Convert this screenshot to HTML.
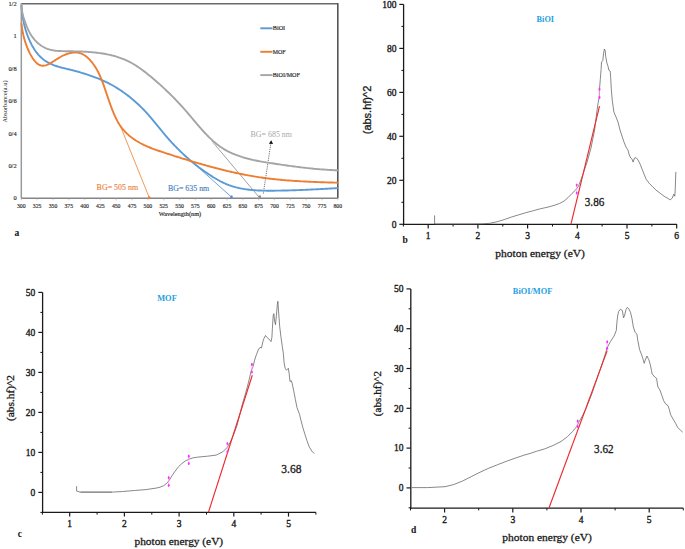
<!DOCTYPE html>
<html><head><meta charset="utf-8"><title>Figure</title>
<style>
html,body{margin:0;padding:0;background:#fff;width:685px;height:549px;overflow:hidden;}
svg{display:block;}
</style></head>
<body>
<svg width="685" height="549" viewBox="0 0 685 549">
<rect width="685" height="549" fill="#fff"/>
<line x1="21.3" y1="3.8" x2="337.8" y2="3.8" stroke="#6a6a6a" stroke-width="1.6"/>
<line x1="21.3" y1="3.0" x2="21.3" y2="198.3" stroke="#9a9a9a" stroke-width="1.5"/>
<line x1="337.8" y1="3.0" x2="337.8" y2="198.3" stroke="#555" stroke-width="1.6"/>
<line x1="21.3" y1="198.3" x2="337.8" y2="198.3" stroke="#858585" stroke-width="1.4"/>
<line x1="21.3" y1="198.3" x2="21.3" y2="200.3" stroke="#aaa" stroke-width="0.6"/>
<text x="21.3" y="207.8" font-family="'Liberation Serif', serif" font-size="6.8" text-anchor="middle" fill="#222" font-weight="normal" stroke="#333" stroke-width="0.18" textLength="8.6" lengthAdjust="spacingAndGlyphs">300</text>
<line x1="37.1" y1="198.3" x2="37.1" y2="200.3" stroke="#aaa" stroke-width="0.6"/>
<text x="37.1" y="207.8" font-family="'Liberation Serif', serif" font-size="6.8" text-anchor="middle" fill="#222" font-weight="normal" stroke="#333" stroke-width="0.18" textLength="8.6" lengthAdjust="spacingAndGlyphs">325</text>
<line x1="53.0" y1="198.3" x2="53.0" y2="200.3" stroke="#aaa" stroke-width="0.6"/>
<text x="53.0" y="207.8" font-family="'Liberation Serif', serif" font-size="6.8" text-anchor="middle" fill="#222" font-weight="normal" stroke="#333" stroke-width="0.18" textLength="8.6" lengthAdjust="spacingAndGlyphs">350</text>
<line x1="68.8" y1="198.3" x2="68.8" y2="200.3" stroke="#aaa" stroke-width="0.6"/>
<text x="68.8" y="207.8" font-family="'Liberation Serif', serif" font-size="6.8" text-anchor="middle" fill="#222" font-weight="normal" stroke="#333" stroke-width="0.18" textLength="8.6" lengthAdjust="spacingAndGlyphs">375</text>
<line x1="84.6" y1="198.3" x2="84.6" y2="200.3" stroke="#aaa" stroke-width="0.6"/>
<text x="84.6" y="207.8" font-family="'Liberation Serif', serif" font-size="6.8" text-anchor="middle" fill="#222" font-weight="normal" stroke="#333" stroke-width="0.18" textLength="8.6" lengthAdjust="spacingAndGlyphs">400</text>
<line x1="100.4" y1="198.3" x2="100.4" y2="200.3" stroke="#aaa" stroke-width="0.6"/>
<text x="100.4" y="207.8" font-family="'Liberation Serif', serif" font-size="6.8" text-anchor="middle" fill="#222" font-weight="normal" stroke="#333" stroke-width="0.18" textLength="8.6" lengthAdjust="spacingAndGlyphs">425</text>
<line x1="116.2" y1="198.3" x2="116.2" y2="200.3" stroke="#aaa" stroke-width="0.6"/>
<text x="116.2" y="207.8" font-family="'Liberation Serif', serif" font-size="6.8" text-anchor="middle" fill="#222" font-weight="normal" stroke="#333" stroke-width="0.18" textLength="8.6" lengthAdjust="spacingAndGlyphs">450</text>
<line x1="132.1" y1="198.3" x2="132.1" y2="200.3" stroke="#aaa" stroke-width="0.6"/>
<text x="132.1" y="207.8" font-family="'Liberation Serif', serif" font-size="6.8" text-anchor="middle" fill="#222" font-weight="normal" stroke="#333" stroke-width="0.18" textLength="8.6" lengthAdjust="spacingAndGlyphs">475</text>
<line x1="147.9" y1="198.3" x2="147.9" y2="200.3" stroke="#aaa" stroke-width="0.6"/>
<text x="147.9" y="207.8" font-family="'Liberation Serif', serif" font-size="6.8" text-anchor="middle" fill="#222" font-weight="normal" stroke="#333" stroke-width="0.18" textLength="8.6" lengthAdjust="spacingAndGlyphs">500</text>
<line x1="163.7" y1="198.3" x2="163.7" y2="200.3" stroke="#aaa" stroke-width="0.6"/>
<text x="163.7" y="207.8" font-family="'Liberation Serif', serif" font-size="6.8" text-anchor="middle" fill="#222" font-weight="normal" stroke="#333" stroke-width="0.18" textLength="8.6" lengthAdjust="spacingAndGlyphs">525</text>
<line x1="179.6" y1="198.3" x2="179.6" y2="200.3" stroke="#aaa" stroke-width="0.6"/>
<text x="179.6" y="207.8" font-family="'Liberation Serif', serif" font-size="6.8" text-anchor="middle" fill="#222" font-weight="normal" stroke="#333" stroke-width="0.18" textLength="8.6" lengthAdjust="spacingAndGlyphs">550</text>
<line x1="195.4" y1="198.3" x2="195.4" y2="200.3" stroke="#aaa" stroke-width="0.6"/>
<text x="195.4" y="207.8" font-family="'Liberation Serif', serif" font-size="6.8" text-anchor="middle" fill="#222" font-weight="normal" stroke="#333" stroke-width="0.18" textLength="8.6" lengthAdjust="spacingAndGlyphs">575</text>
<line x1="211.2" y1="198.3" x2="211.2" y2="200.3" stroke="#aaa" stroke-width="0.6"/>
<text x="211.2" y="207.8" font-family="'Liberation Serif', serif" font-size="6.8" text-anchor="middle" fill="#222" font-weight="normal" stroke="#333" stroke-width="0.18" textLength="8.6" lengthAdjust="spacingAndGlyphs">600</text>
<line x1="227.0" y1="198.3" x2="227.0" y2="200.3" stroke="#aaa" stroke-width="0.6"/>
<text x="227.0" y="207.8" font-family="'Liberation Serif', serif" font-size="6.8" text-anchor="middle" fill="#222" font-weight="normal" stroke="#333" stroke-width="0.18" textLength="8.6" lengthAdjust="spacingAndGlyphs">625</text>
<line x1="242.9" y1="198.3" x2="242.9" y2="200.3" stroke="#aaa" stroke-width="0.6"/>
<text x="242.9" y="207.8" font-family="'Liberation Serif', serif" font-size="6.8" text-anchor="middle" fill="#222" font-weight="normal" stroke="#333" stroke-width="0.18" textLength="8.6" lengthAdjust="spacingAndGlyphs">650</text>
<line x1="258.7" y1="198.3" x2="258.7" y2="200.3" stroke="#aaa" stroke-width="0.6"/>
<text x="258.7" y="207.8" font-family="'Liberation Serif', serif" font-size="6.8" text-anchor="middle" fill="#222" font-weight="normal" stroke="#333" stroke-width="0.18" textLength="8.6" lengthAdjust="spacingAndGlyphs">675</text>
<line x1="274.5" y1="198.3" x2="274.5" y2="200.3" stroke="#aaa" stroke-width="0.6"/>
<text x="274.5" y="207.8" font-family="'Liberation Serif', serif" font-size="6.8" text-anchor="middle" fill="#222" font-weight="normal" stroke="#333" stroke-width="0.18" textLength="8.6" lengthAdjust="spacingAndGlyphs">700</text>
<line x1="290.3" y1="198.3" x2="290.3" y2="200.3" stroke="#aaa" stroke-width="0.6"/>
<text x="290.3" y="207.8" font-family="'Liberation Serif', serif" font-size="6.8" text-anchor="middle" fill="#222" font-weight="normal" stroke="#333" stroke-width="0.18" textLength="8.6" lengthAdjust="spacingAndGlyphs">725</text>
<line x1="306.2" y1="198.3" x2="306.2" y2="200.3" stroke="#aaa" stroke-width="0.6"/>
<text x="306.2" y="207.8" font-family="'Liberation Serif', serif" font-size="6.8" text-anchor="middle" fill="#222" font-weight="normal" stroke="#333" stroke-width="0.18" textLength="8.6" lengthAdjust="spacingAndGlyphs">750</text>
<line x1="322.0" y1="198.3" x2="322.0" y2="200.3" stroke="#aaa" stroke-width="0.6"/>
<text x="322.0" y="207.8" font-family="'Liberation Serif', serif" font-size="6.8" text-anchor="middle" fill="#222" font-weight="normal" stroke="#333" stroke-width="0.18" textLength="8.6" lengthAdjust="spacingAndGlyphs">775</text>
<line x1="337.8" y1="198.3" x2="337.8" y2="200.3" stroke="#aaa" stroke-width="0.6"/>
<text x="337.8" y="207.8" font-family="'Liberation Serif', serif" font-size="6.8" text-anchor="middle" fill="#222" font-weight="normal" stroke="#333" stroke-width="0.18" textLength="8.6" lengthAdjust="spacingAndGlyphs">800</text>
<text x="16.6" y="200.3" font-family="'Liberation Serif', serif" font-size="6.4" text-anchor="end" fill="#222" font-weight="normal" stroke="#333" stroke-width="0.15">0</text>
<text x="16.6" y="167.9" font-family="'Liberation Serif', serif" font-size="6.4" text-anchor="end" fill="#222" font-weight="normal" stroke="#333" stroke-width="0.15">0/2</text>
<text x="16.6" y="135.5" font-family="'Liberation Serif', serif" font-size="6.4" text-anchor="end" fill="#222" font-weight="normal" stroke="#333" stroke-width="0.15">0/4</text>
<text x="16.6" y="103.1" font-family="'Liberation Serif', serif" font-size="6.4" text-anchor="end" fill="#222" font-weight="normal" stroke="#333" stroke-width="0.15">0/6</text>
<text x="16.6" y="70.6" font-family="'Liberation Serif', serif" font-size="6.4" text-anchor="end" fill="#222" font-weight="normal" stroke="#333" stroke-width="0.15">0/8</text>
<text x="16.6" y="38.2" font-family="'Liberation Serif', serif" font-size="6.4" text-anchor="end" fill="#222" font-weight="normal" stroke="#333" stroke-width="0.15">1</text>
<text x="16.6" y="5.8" font-family="'Liberation Serif', serif" font-size="6.4" text-anchor="end" fill="#222" font-weight="normal" stroke="#333" stroke-width="0.15">1/2</text>
<text x="6.7" y="101.5" font-family="'Liberation Serif', serif" font-size="7" text-anchor="middle" fill="#222" font-weight="normal" transform="rotate(-90 6.7 101.5)" textLength="42" lengthAdjust="spacingAndGlyphs">Absorbance(a.u)</text>
<text x="158.8" y="216.2" font-family="'Liberation Serif', serif" font-size="6.8" text-anchor="start" fill="#222" font-weight="normal" stroke="#333" stroke-width="0.18" textLength="42.4" lengthAdjust="spacingAndGlyphs">Wavelength(nm)</text>
<text x="14.6" y="235.7" font-family="'Liberation Serif', serif" font-size="9.5" text-anchor="start" fill="#111" font-weight="bold" >a</text>
<line x1="120.9" y1="127.3" x2="149.2" y2="197.4" stroke="#ED7D31" stroke-width="0.8"/>
<circle cx="149.2" cy="197.6" r="1.3" fill="#ED7D31"/>
<line x1="193.6" y1="163.2" x2="232" y2="197.5" stroke="#4a8ad0" stroke-width="0.8"/>
<circle cx="231.5" cy="196.8" r="1.3" fill="#4a8ad0"/>
<line x1="211.7" y1="140.8" x2="258.9" y2="197" stroke="#7a7a7a" stroke-width="0.7"/>
<rect x="258.7" y="195.5" width="2.2" height="2.2" fill="#808080"/>
<line x1="263.3" y1="193.6" x2="270.7" y2="144.3" stroke="#333" stroke-width="0.7" stroke-dasharray="1.2,1"/>
<path d="M271.2,140.3 L273.1,144.1 L268.9,143.8 Z" fill="#111"/>
<path d="M21.50,5.50 L21.61,7.02 L21.73,8.53 L21.87,10.03 L22.03,11.53 L22.20,13.01 L22.39,14.49 L22.60,15.97 L22.82,17.43 L23.07,18.89 L23.33,20.35 L23.62,21.79 L23.92,23.24 L24.25,24.67 L24.59,26.10 L24.97,27.53 L25.36,28.95 L25.78,30.37 L26.22,31.78 L26.69,33.19 L27.19,34.60 L27.71,36.00 L28.26,37.40 L28.84,38.80 L29.45,40.19 L30.09,41.58 L30.76,42.96 L31.46,44.34 L32.19,45.70 L32.95,47.04 L33.74,48.37 L34.57,49.67 L35.44,50.94 L36.34,52.18 L37.27,53.38 L38.24,54.55 L39.25,55.68 L40.30,56.76 L41.38,57.79 L42.51,58.77 L43.67,59.69 L44.87,60.55 L46.11,61.37 L47.38,62.13 L48.67,62.84 L50.00,63.51 L51.34,64.13 L52.70,64.72 L54.08,65.26 L55.47,65.77 L56.87,66.24 L58.28,66.68 L59.69,67.09 L61.10,67.48 L62.52,67.85 L63.93,68.20 L65.35,68.54 L66.77,68.87 L68.19,69.20 L69.62,69.54 L71.04,69.87 L72.46,70.22 L73.89,70.59 L75.31,70.97 L76.73,71.36 L78.16,71.76 L79.58,72.18 L81.00,72.61 L82.42,73.04 L83.84,73.48 L85.26,73.93 L86.67,74.38 L88.08,74.85 L89.49,75.32 L90.90,75.81 L92.30,76.31 L93.70,76.82 L95.09,77.34 L96.49,77.87 L97.87,78.42 L99.25,78.98 L100.63,79.56 L102.00,80.15 L103.37,80.76 L104.73,81.38 L106.09,82.03 L107.44,82.69 L108.78,83.37 L110.12,84.07 L111.45,84.78 L112.77,85.52 L114.08,86.27 L115.39,87.05 L116.69,87.83 L117.98,88.64 L119.26,89.46 L120.53,90.30 L121.80,91.15 L123.05,92.02 L124.29,92.90 L125.53,93.80 L126.75,94.71 L127.97,95.63 L129.17,96.57 L130.36,97.52 L131.54,98.48 L132.71,99.45 L133.87,100.44 L135.01,101.43 L136.15,102.44 L137.27,103.46 L138.37,104.48 L139.47,105.52 L140.55,106.56 L141.62,107.62 L142.67,108.68 L143.71,109.75 L144.73,110.82 L145.74,111.91 L146.74,113.00 L147.73,114.09 L148.70,115.19 L149.67,116.30 L150.62,117.41 L151.57,118.53 L152.51,119.65 L153.45,120.77 L154.38,121.90 L155.31,123.03 L156.24,124.16 L157.16,125.30 L158.09,126.43 L159.01,127.57 L159.94,128.71 L160.87,129.85 L161.80,130.99 L162.74,132.13 L163.68,133.26 L164.63,134.40 L165.59,135.53 L166.56,136.67 L167.53,137.80 L168.52,138.92 L169.52,140.05 L170.53,141.17 L171.55,142.28 L172.57,143.39 L173.61,144.50 L174.66,145.60 L175.72,146.70 L176.78,147.78 L177.85,148.87 L178.93,149.94 L180.02,151.01 L181.12,152.07 L182.22,153.12 L183.32,154.17 L184.44,155.20 L185.56,156.22 L186.68,157.24 L187.81,158.24 L188.95,159.24 L190.09,160.22 L191.23,161.19 L192.38,162.15 L193.53,163.10 L194.68,164.03 L195.84,164.96 L197.00,165.87 L198.17,166.77 L199.35,167.66 L200.53,168.55 L201.72,169.42 L202.92,170.28 L204.13,171.14 L205.35,171.99 L206.57,172.82 L207.81,173.66 L209.06,174.48 L210.32,175.30 L211.59,176.12 L212.87,176.93 L214.17,177.73 L215.47,178.52 L216.79,179.29 L218.12,180.05 L219.45,180.79 L220.80,181.50 L222.15,182.18 L223.51,182.84 L224.87,183.46 L226.25,184.05 L227.63,184.61 L229.02,185.14 L230.41,185.63 L231.81,186.10 L233.22,186.54 L234.63,186.95 L236.04,187.33 L237.47,187.68 L238.90,188.02 L240.33,188.32 L241.77,188.61 L243.21,188.87 L244.66,189.11 L246.12,189.33 L247.57,189.52 L249.04,189.70 L250.50,189.86 L251.97,190.01 L253.45,190.14 L254.93,190.25 L256.41,190.34 L257.89,190.43 L259.38,190.50 L260.88,190.56 L262.37,190.60 L263.87,190.64 L265.37,190.67 L266.87,190.68 L268.37,190.69 L269.88,190.70 L271.39,190.70 L272.90,190.69 L274.41,190.68 L275.93,190.66 L277.44,190.64 L278.96,190.62 L280.48,190.60 L282.00,190.57 L283.52,190.54 L285.04,190.50 L286.56,190.47 L288.08,190.43 L289.60,190.38 L291.12,190.34 L292.64,190.29 L294.16,190.24 L295.68,190.19 L297.20,190.14 L298.72,190.08 L300.24,190.02 L301.75,189.96 L303.27,189.90 L304.78,189.84 L306.29,189.77 L307.80,189.70 L309.31,189.63 L310.82,189.56 L312.32,189.49 L313.82,189.41 L315.32,189.34 L316.82,189.26 L318.31,189.18 L319.80,189.11 L321.29,189.03 L322.77,188.94 L324.25,188.86 L325.73,188.78 L327.20,188.70 L328.67,188.61 L330.13,188.53 L331.59,188.44 L333.05,188.36 L334.50,188.27 L335.95,188.18 L337.39,188.10" fill="none" stroke="#5B9BD5" stroke-width="1.9" stroke-linejoin="round" stroke-linecap="round"/>
<path d="M21.50,23.60 L21.67,25.16 L21.86,26.68 L22.07,28.17 L22.29,29.64 L22.54,31.09 L22.81,32.52 L23.10,33.94 L23.41,35.35 L23.75,36.75 L24.12,38.15 L24.51,39.55 L24.93,40.95 L25.38,42.37 L25.86,43.80 L26.37,45.23 L26.91,46.68 L27.48,48.12 L28.09,49.56 L28.73,51.00 L29.41,52.42 L30.13,53.83 L30.88,55.22 L31.68,56.58 L32.51,57.92 L33.39,59.23 L34.31,60.48 L35.27,61.66 L36.27,62.72 L37.32,63.64 L38.42,64.41 L39.55,65.01 L40.72,65.44 L41.92,65.70 L43.15,65.77 L44.41,65.67 L45.68,65.37 L46.97,64.91 L48.27,64.33 L49.58,63.66 L50.90,62.92 L52.23,62.12 L53.57,61.28 L54.91,60.42 L56.27,59.54 L57.64,58.67 L59.02,57.82 L60.41,56.99 L61.82,56.22 L63.24,55.50 L64.67,54.84 L66.11,54.26 L67.55,53.74 L68.99,53.31 L70.44,52.96 L71.87,52.70 L73.30,52.53 L74.72,52.46 L76.13,52.49 L77.52,52.62 L78.88,52.86 L80.22,53.22 L81.52,53.69 L82.79,54.28 L84.03,54.96 L85.23,55.75 L86.40,56.61 L87.53,57.56 L88.63,58.58 L89.69,59.66 L90.72,60.80 L91.70,61.98 L92.65,63.20 L93.56,64.45 L94.44,65.72 L95.27,67.00 L96.07,68.30 L96.83,69.62 L97.56,70.94 L98.26,72.27 L98.93,73.62 L99.57,74.98 L100.19,76.34 L100.78,77.72 L101.36,79.10 L101.91,80.49 L102.45,81.88 L102.98,83.29 L103.49,84.69 L103.99,86.10 L104.48,87.52 L104.97,88.94 L105.45,90.36 L105.93,91.78 L106.41,93.21 L106.89,94.63 L107.36,96.06 L107.85,97.48 L108.33,98.90 L108.82,100.32 L109.31,101.74 L109.81,103.16 L110.32,104.56 L110.83,105.97 L111.35,107.37 L111.88,108.76 L112.42,110.15 L112.97,111.52 L113.54,112.89 L114.11,114.26 L114.71,115.61 L115.32,116.94 L115.95,118.27 L116.61,119.58 L117.29,120.88 L118.00,122.17 L118.75,123.43 L119.53,124.68 L120.34,125.91 L121.20,127.11 L122.10,128.30 L123.04,129.46 L124.03,130.60 L125.07,131.72 L126.15,132.81 L127.27,133.87 L128.42,134.90 L129.60,135.91 L130.81,136.88 L132.04,137.82 L133.29,138.73 L134.56,139.60 L135.83,140.44 L137.11,141.25 L138.40,142.02 L139.70,142.76 L141.00,143.47 L142.32,144.15 L143.63,144.81 L144.96,145.44 L146.29,146.05 L147.63,146.63 L148.98,147.20 L150.33,147.75 L151.69,148.28 L153.05,148.80 L154.42,149.30 L155.80,149.79 L157.18,150.28 L158.56,150.76 L159.95,151.23 L161.34,151.69 L162.74,152.15 L164.15,152.62 L165.55,153.08 L166.97,153.54 L168.38,154.00 L169.80,154.46 L171.22,154.92 L172.65,155.38 L174.07,155.84 L175.50,156.29 L176.94,156.75 L178.37,157.20 L179.81,157.65 L181.25,158.10 L182.69,158.55 L184.14,159.00 L185.58,159.44 L187.03,159.88 L188.48,160.32 L189.93,160.76 L191.37,161.20 L192.82,161.63 L194.27,162.06 L195.72,162.49 L197.18,162.92 L198.63,163.34 L200.08,163.76 L201.53,164.18 L202.98,164.59 L204.43,165.00 L205.89,165.41 L207.34,165.81 L208.79,166.21 L210.25,166.61 L211.70,167.00 L213.15,167.39 L214.61,167.78 L216.06,168.16 L217.52,168.54 L218.98,168.91 L220.43,169.28 L221.89,169.65 L223.35,170.01 L224.80,170.37 L226.26,170.72 L227.72,171.06 L229.18,171.41 L230.64,171.74 L232.10,172.08 L233.56,172.40 L235.02,172.73 L236.48,173.04 L237.94,173.36 L239.40,173.66 L240.87,173.96 L242.33,174.26 L243.79,174.55 L245.26,174.83 L246.72,175.11 L248.19,175.38 L249.65,175.65 L251.12,175.91 L252.59,176.17 L254.05,176.41 L255.52,176.65 L256.99,176.89 L258.46,177.12 L259.93,177.34 L261.40,177.56 L262.87,177.76 L264.34,177.97 L265.82,178.16 L267.29,178.35 L268.76,178.54 L270.24,178.72 L271.71,178.89 L273.19,179.06 L274.67,179.22 L276.14,179.37 L277.62,179.53 L279.10,179.67 L280.58,179.81 L282.06,179.95 L283.54,180.08 L285.02,180.21 L286.51,180.33 L287.99,180.45 L289.47,180.56 L290.96,180.67 L292.44,180.78 L293.93,180.88 L295.42,180.98 L296.90,181.07 L298.39,181.16 L299.88,181.25 L301.37,181.34 L302.86,181.42 L304.36,181.50 L305.85,181.57 L307.34,181.64 L308.84,181.71 L310.33,181.78 L311.83,181.85 L313.33,181.91 L314.82,181.97 L316.32,182.03 L317.82,182.09 L319.32,182.14 L320.82,182.19 L322.33,182.24 L323.83,182.29 L325.34,182.34 L326.84,182.39 L328.35,182.44 L329.86,182.48 L331.36,182.53 L332.87,182.57 L334.38,182.61 L335.90,182.66 L337.41,182.70" fill="none" stroke="#ED7D31" stroke-width="1.9" stroke-linejoin="round" stroke-linecap="round"/>
<path d="M21.49,5.01 L21.48,6.46 L21.55,7.92 L21.69,9.36 L21.91,10.81 L22.18,12.25 L22.51,13.70 L22.89,15.14 L23.30,16.58 L23.75,18.01 L24.22,19.45 L24.70,20.89 L25.21,22.33 L25.73,23.76 L26.27,25.19 L26.83,26.60 L27.43,28.00 L28.05,29.39 L28.70,30.75 L29.39,32.09 L30.12,33.41 L30.89,34.70 L31.70,35.96 L32.56,37.19 L33.47,38.38 L34.42,39.53 L35.41,40.63 L36.44,41.70 L37.52,42.71 L38.63,43.68 L39.77,44.59 L40.96,45.44 L42.17,46.24 L43.42,46.98 L44.69,47.65 L46.00,48.26 L47.33,48.79 L48.68,49.26 L50.06,49.66 L51.46,50.00 L52.88,50.28 L54.32,50.51 L55.77,50.70 L57.24,50.85 L58.72,50.96 L60.21,51.05 L61.71,51.11 L63.22,51.15 L64.74,51.18 L66.26,51.21 L67.78,51.23 L69.30,51.25 L70.83,51.28 L72.36,51.30 L73.89,51.34 L75.42,51.37 L76.94,51.41 L78.47,51.46 L80.00,51.51 L81.53,51.57 L83.06,51.64 L84.58,51.72 L86.10,51.80 L87.62,51.90 L89.14,52.00 L90.66,52.12 L92.17,52.25 L93.68,52.39 L95.19,52.54 L96.69,52.71 L98.19,52.89 L99.68,53.09 L101.17,53.30 L102.65,53.52 L104.13,53.77 L105.60,54.03 L107.07,54.31 L108.53,54.61 L109.98,54.93 L111.43,55.27 L112.86,55.63 L114.29,56.02 L115.72,56.42 L117.13,56.85 L118.53,57.30 L119.93,57.78 L121.32,58.28 L122.69,58.80 L124.06,59.35 L125.42,59.93 L126.76,60.54 L128.10,61.18 L129.42,61.84 L130.74,62.53 L132.04,63.25 L133.33,64.00 L134.61,64.77 L135.88,65.56 L137.14,66.37 L138.39,67.21 L139.63,68.06 L140.86,68.93 L142.09,69.82 L143.30,70.72 L144.51,71.63 L145.70,72.56 L146.89,73.50 L148.07,74.44 L149.24,75.40 L150.41,76.35 L151.57,77.32 L152.72,78.29 L153.87,79.26 L155.00,80.23 L156.13,81.21 L157.26,82.19 L158.38,83.17 L159.49,84.16 L160.60,85.16 L161.70,86.15 L162.79,87.16 L163.88,88.16 L164.96,89.17 L166.04,90.19 L167.11,91.21 L168.18,92.23 L169.24,93.27 L170.30,94.30 L171.35,95.34 L172.39,96.39 L173.44,97.44 L174.47,98.50 L175.51,99.57 L176.53,100.64 L177.56,101.72 L178.58,102.80 L179.59,103.89 L180.61,104.99 L181.61,106.09 L182.62,107.20 L183.62,108.32 L184.62,109.45 L185.61,110.58 L186.60,111.72 L187.59,112.87 L188.57,114.02 L189.56,115.18 L190.54,116.34 L191.52,117.51 L192.50,118.68 L193.48,119.85 L194.47,121.02 L195.45,122.19 L196.44,123.35 L197.43,124.52 L198.42,125.68 L199.42,126.83 L200.42,127.98 L201.43,129.12 L202.44,130.25 L203.46,131.38 L204.49,132.49 L205.52,133.59 L206.56,134.68 L207.61,135.76 L208.67,136.82 L209.74,137.87 L210.82,138.90 L211.91,139.91 L213.02,140.91 L214.13,141.88 L215.26,142.84 L216.40,143.77 L217.55,144.68 L218.72,145.57 L219.91,146.43 L221.10,147.27 L222.32,148.08 L223.55,148.86 L224.80,149.61 L226.07,150.34 L227.35,151.04 L228.65,151.71 L229.96,152.36 L231.29,152.98 L232.63,153.57 L233.99,154.15 L235.36,154.70 L236.74,155.23 L238.13,155.73 L239.53,156.22 L240.94,156.69 L242.37,157.14 L243.80,157.57 L245.24,157.98 L246.69,158.38 L248.15,158.76 L249.61,159.13 L251.08,159.48 L252.56,159.81 L254.04,160.14 L255.52,160.45 L257.01,160.75 L258.51,161.04 L260.01,161.32 L261.51,161.60 L263.01,161.86 L264.51,162.12 L266.01,162.37 L267.52,162.61 L269.02,162.85 L270.52,163.08 L272.02,163.31 L273.52,163.54 L275.02,163.76 L276.51,163.98 L278.00,164.21 L279.49,164.42 L280.97,164.64 L282.45,164.86 L283.93,165.07 L285.41,165.28 L286.89,165.49 L288.36,165.69 L289.83,165.90 L291.31,166.10 L292.78,166.30 L294.25,166.49 L295.72,166.68 L297.18,166.87 L298.65,167.05 L300.12,167.24 L301.59,167.41 L303.06,167.59 L304.53,167.76 L306.00,167.92 L307.47,168.09 L308.94,168.24 L310.42,168.40 L311.89,168.55 L313.37,168.69 L314.85,168.83 L316.33,168.97 L317.82,169.10 L319.30,169.22 L320.79,169.34 L322.28,169.46 L323.78,169.57 L325.27,169.67 L326.78,169.77 L328.28,169.87 L329.79,169.95 L331.30,170.04 L332.82,170.11 L334.34,170.18 L335.87,170.24 L337.40,170.30" fill="none" stroke="#A5A5A5" stroke-width="1.9" stroke-linejoin="round" stroke-linecap="round"/>
<text x="96.6" y="189.9" font-family="'Liberation Serif', serif" font-size="8.8" text-anchor="start" fill="#EB8240" font-weight="normal" stroke="#EB8240" stroke-width="0.15" textLength="41.6" lengthAdjust="spacingAndGlyphs">BG= 505 nm</text>
<text x="168.0" y="190.9" font-family="'Liberation Serif', serif" font-size="8.8" text-anchor="start" fill="#4A80C4" font-weight="normal" stroke="#4A80C4" stroke-width="0.15" textLength="41.2" lengthAdjust="spacingAndGlyphs">BG= 635 nm</text>
<text x="250.6" y="137.0" font-family="'Liberation Serif', serif" font-size="8.8" text-anchor="start" fill="#A8A8A8" font-weight="normal" textLength="41.4" lengthAdjust="spacingAndGlyphs">BG= 685 nm</text>
<line x1="260.3" y1="28.3" x2="272.5" y2="28.3" stroke="#5B9BD5" stroke-width="1.9"/>
<text x="272.8" y="30.4" font-family="'Liberation Serif', serif" font-size="6.4" text-anchor="start" fill="#222" font-weight="normal" stroke="#333" stroke-width="0.18" textLength="12.4" lengthAdjust="spacingAndGlyphs">BiOI</text>
<line x1="260.3" y1="51.8" x2="272.5" y2="51.8" stroke="#ED7D31" stroke-width="1.9"/>
<text x="272.8" y="53.9" font-family="'Liberation Serif', serif" font-size="6.4" text-anchor="start" fill="#222" font-weight="normal" stroke="#333" stroke-width="0.18" textLength="12.8" lengthAdjust="spacingAndGlyphs">MOF</text>
<line x1="260.3" y1="75.1" x2="272.5" y2="75.1" stroke="#A5A5A5" stroke-width="1.9"/>
<text x="272.8" y="77.2" font-family="'Liberation Serif', serif" font-size="6.4" text-anchor="start" fill="#222" font-weight="normal" stroke="#333" stroke-width="0.18" textLength="27" lengthAdjust="spacingAndGlyphs">BiOI/MOF</text>
<line x1="403.6" y1="4.4" x2="403.6" y2="224.9" stroke="#1a1a1a" stroke-width="1.3"/>
<line x1="403.0" y1="224.3" x2="676.9" y2="224.3" stroke="#1a1a1a" stroke-width="1.3"/>
<line x1="428.2" y1="224.3" x2="428.2" y2="228.5" stroke="#1a1a1a" stroke-width="1.2"/>
<text x="428.2" y="238.6" font-family="'Liberation Serif', serif" font-size="9.5" text-anchor="middle" fill="#1a1a1a" font-weight="normal" stroke="#1a1a1a" stroke-width="0.35">1</text>
<line x1="477.9" y1="224.3" x2="477.9" y2="228.5" stroke="#1a1a1a" stroke-width="1.2"/>
<text x="477.9" y="238.6" font-family="'Liberation Serif', serif" font-size="9.5" text-anchor="middle" fill="#1a1a1a" font-weight="normal" stroke="#1a1a1a" stroke-width="0.35">2</text>
<line x1="527.6" y1="224.3" x2="527.6" y2="228.5" stroke="#1a1a1a" stroke-width="1.2"/>
<text x="527.6" y="238.6" font-family="'Liberation Serif', serif" font-size="9.5" text-anchor="middle" fill="#1a1a1a" font-weight="normal" stroke="#1a1a1a" stroke-width="0.35">3</text>
<line x1="577.3" y1="224.3" x2="577.3" y2="228.5" stroke="#1a1a1a" stroke-width="1.2"/>
<text x="577.3" y="238.6" font-family="'Liberation Serif', serif" font-size="9.5" text-anchor="middle" fill="#1a1a1a" font-weight="normal" stroke="#1a1a1a" stroke-width="0.35">4</text>
<line x1="627.0" y1="224.3" x2="627.0" y2="228.5" stroke="#1a1a1a" stroke-width="1.2"/>
<text x="627.0" y="238.6" font-family="'Liberation Serif', serif" font-size="9.5" text-anchor="middle" fill="#1a1a1a" font-weight="normal" stroke="#1a1a1a" stroke-width="0.35">5</text>
<line x1="676.7" y1="224.3" x2="676.7" y2="228.5" stroke="#1a1a1a" stroke-width="1.2"/>
<text x="676.7" y="238.6" font-family="'Liberation Serif', serif" font-size="9.5" text-anchor="middle" fill="#1a1a1a" font-weight="normal" stroke="#1a1a1a" stroke-width="0.35">6</text>
<line x1="403.4" y1="224.3" x2="403.4" y2="226.5" stroke="#111" stroke-width="1"/>
<line x1="453.1" y1="224.3" x2="453.1" y2="226.5" stroke="#111" stroke-width="1"/>
<line x1="502.8" y1="224.3" x2="502.8" y2="226.5" stroke="#111" stroke-width="1"/>
<line x1="552.5" y1="224.3" x2="552.5" y2="226.5" stroke="#111" stroke-width="1"/>
<line x1="602.1" y1="224.3" x2="602.1" y2="226.5" stroke="#111" stroke-width="1"/>
<line x1="651.9" y1="224.3" x2="651.9" y2="226.5" stroke="#111" stroke-width="1"/>
<line x1="399.3" y1="224.3" x2="403.6" y2="224.3" stroke="#1a1a1a" stroke-width="1.2"/>
<text x="396.5" y="227.6" font-family="'Liberation Serif', serif" font-size="9.5" text-anchor="end" fill="#1a1a1a" font-weight="normal" stroke="#1a1a1a" stroke-width="0.35">0</text>
<line x1="399.3" y1="180.3" x2="403.6" y2="180.3" stroke="#1a1a1a" stroke-width="1.2"/>
<text x="396.5" y="183.6" font-family="'Liberation Serif', serif" font-size="9.5" text-anchor="end" fill="#1a1a1a" font-weight="normal" stroke="#1a1a1a" stroke-width="0.35">20</text>
<line x1="399.3" y1="136.3" x2="403.6" y2="136.3" stroke="#1a1a1a" stroke-width="1.2"/>
<text x="396.5" y="139.6" font-family="'Liberation Serif', serif" font-size="9.5" text-anchor="end" fill="#1a1a1a" font-weight="normal" stroke="#1a1a1a" stroke-width="0.35">40</text>
<line x1="399.3" y1="92.4" x2="403.6" y2="92.4" stroke="#1a1a1a" stroke-width="1.2"/>
<text x="396.5" y="95.7" font-family="'Liberation Serif', serif" font-size="9.5" text-anchor="end" fill="#1a1a1a" font-weight="normal" stroke="#1a1a1a" stroke-width="0.35">60</text>
<line x1="399.3" y1="48.4" x2="403.6" y2="48.4" stroke="#1a1a1a" stroke-width="1.2"/>
<text x="396.5" y="51.7" font-family="'Liberation Serif', serif" font-size="9.5" text-anchor="end" fill="#1a1a1a" font-weight="normal" stroke="#1a1a1a" stroke-width="0.35">80</text>
<line x1="399.3" y1="4.4" x2="403.6" y2="4.4" stroke="#1a1a1a" stroke-width="1.2"/>
<text x="396.5" y="7.7" font-family="'Liberation Serif', serif" font-size="9.5" text-anchor="end" fill="#1a1a1a" font-weight="normal" stroke="#1a1a1a" stroke-width="0.35">100</text>
<line x1="401.40000000000003" y1="202.3" x2="403.6" y2="202.3" stroke="#111" stroke-width="1"/>
<line x1="401.40000000000003" y1="158.3" x2="403.6" y2="158.3" stroke="#111" stroke-width="1"/>
<line x1="401.40000000000003" y1="114.4" x2="403.6" y2="114.4" stroke="#111" stroke-width="1"/>
<line x1="401.40000000000003" y1="70.4" x2="403.6" y2="70.4" stroke="#111" stroke-width="1"/>
<line x1="401.40000000000003" y1="26.4" x2="403.6" y2="26.4" stroke="#111" stroke-width="1"/>
<text x="370.6" y="110" font-family="'Liberation Sans', sans-serif" font-size="11" text-anchor="middle" fill="#1a1a1a" font-weight="normal" stroke="#1a1a1a" stroke-width="0.3" transform="rotate(-90 370.6 110)" textLength="48.5" lengthAdjust="spacingAndGlyphs">(abs.hf)^2</text>
<text x="540.1" y="257.3" font-family="'Liberation Serif', serif" font-size="11.3" text-anchor="middle" fill="#1a1a1a" font-weight="normal" stroke="#1a1a1a" stroke-width="0.3" textLength="89.5" lengthAdjust="spacingAndGlyphs">photon energy (eV)</text>
<text x="402.6" y="242.8" font-family="'Liberation Serif', serif" font-size="9.5" text-anchor="start" fill="#111" font-weight="bold" >b</text>
<text x="545.3" y="22.1" font-family="'Liberation Serif', serif" font-size="8.5" text-anchor="middle" fill="#1E9EE0" font-weight="bold" textLength="17.4" lengthAdjust="spacingAndGlyphs">BiOI</text>
<text x="584.8" y="205.5" font-family="'Liberation Serif', serif" font-size="11.5" text-anchor="start" fill="#1a1a1a" font-weight="normal" stroke="#1a1a1a" stroke-width="0.3" textLength="19.5" lengthAdjust="spacingAndGlyphs">3.86</text>
<polyline points="434.6,215.4 434.6,224.0 436.0,224.1 470.0,224.1 482.3,223.9 489.6,223.3 496.9,221.8 504.2,219.6 511.5,217.0 518.8,214.8 526.1,212.6 533.4,210.7 540.7,208.7 548.0,207.1 555.3,205.0 559.7,203.4 564.1,201.0 568.4,197.3 572.0,193.5 575.3,190.3 578.4,186.4 582.8,174.8 587.2,161.7 591.0,148.0 594.6,130.0 597.0,110.5 598.2,102.3 599.2,97.4 599.5,89.2 600.3,79.3 601.1,69.5 601.5,62.1 602.8,60.5 603.6,53.1 604.4,49.0 605.2,50.7 605.7,56.4 606.9,63.0 608.0,66.2 608.9,70.3 610.2,71.1 610.7,77.7 611.3,89.2 612.3,100.7 613.9,112.1 616.0,117.0 618.0,122.0 620.0,130.0 622.0,136.1 624.0,142.1 626.0,147.1 628.0,150.1 629.0,154.1 630.7,158.1 632.1,159.1 633.1,162.1 634.5,158.1 636.1,157.7 638.1,160.1 640.1,164.1 642.1,169.2 644.1,174.2 646.1,179.2 649.1,183.2 652.1,186.2 656.1,190.2 660.1,193.2 664.1,196.2 668.2,198.6 670.2,199.8 672.2,198.2 673.8,194.2 674.8,196.2 675.2,190.2 675.8,172.2 676.2,172.2" fill="none" stroke="#555" stroke-width="0.7" stroke-linejoin="round"/>
<line x1="570.9" y1="224.3" x2="599.5" y2="106.1" stroke="#ec2a2e" stroke-width="1.15"/>
<line x1="576.7" y1="185.0" x2="576.7" y2="193.0" stroke="#ff99ff" stroke-width="0.6"/>
<ellipse cx="576.7" cy="185.0" rx="0.95" ry="1.6" fill="#ff2dff"/>
<ellipse cx="576.7" cy="193.0" rx="0.95" ry="1.6" fill="#ff2dff"/>
<line x1="599.5" y1="89.2" x2="599.5" y2="97.4" stroke="#ff99ff" stroke-width="0.6"/>
<ellipse cx="599.5" cy="89.2" rx="0.95" ry="1.6" fill="#ff2dff"/>
<ellipse cx="599.5" cy="97.4" rx="0.95" ry="1.6" fill="#ff2dff"/>
<line x1="42.6" y1="292.4" x2="42.6" y2="513.0" stroke="#1a1a1a" stroke-width="1.3"/>
<line x1="42.0" y1="512.4" x2="315.9" y2="512.4" stroke="#1a1a1a" stroke-width="1.3"/>
<line x1="69.7" y1="512.4" x2="69.7" y2="516.6" stroke="#1a1a1a" stroke-width="1.2"/>
<text x="69.7" y="526.6" font-family="'Liberation Serif', serif" font-size="9.5" text-anchor="middle" fill="#1a1a1a" font-weight="normal" stroke="#1a1a1a" stroke-width="0.35">1</text>
<line x1="124.4" y1="512.4" x2="124.4" y2="516.6" stroke="#1a1a1a" stroke-width="1.2"/>
<text x="124.4" y="526.6" font-family="'Liberation Serif', serif" font-size="9.5" text-anchor="middle" fill="#1a1a1a" font-weight="normal" stroke="#1a1a1a" stroke-width="0.35">2</text>
<line x1="179.1" y1="512.4" x2="179.1" y2="516.6" stroke="#1a1a1a" stroke-width="1.2"/>
<text x="179.1" y="526.6" font-family="'Liberation Serif', serif" font-size="9.5" text-anchor="middle" fill="#1a1a1a" font-weight="normal" stroke="#1a1a1a" stroke-width="0.35">3</text>
<line x1="233.8" y1="512.4" x2="233.8" y2="516.6" stroke="#1a1a1a" stroke-width="1.2"/>
<text x="233.8" y="526.6" font-family="'Liberation Serif', serif" font-size="9.5" text-anchor="middle" fill="#1a1a1a" font-weight="normal" stroke="#1a1a1a" stroke-width="0.35">4</text>
<line x1="288.5" y1="512.4" x2="288.5" y2="516.6" stroke="#1a1a1a" stroke-width="1.2"/>
<text x="288.5" y="526.6" font-family="'Liberation Serif', serif" font-size="9.5" text-anchor="middle" fill="#1a1a1a" font-weight="normal" stroke="#1a1a1a" stroke-width="0.35">5</text>
<line x1="42.4" y1="512.4" x2="42.4" y2="514.6" stroke="#111" stroke-width="1"/>
<line x1="97.1" y1="512.4" x2="97.1" y2="514.6" stroke="#111" stroke-width="1"/>
<line x1="151.8" y1="512.4" x2="151.8" y2="514.6" stroke="#111" stroke-width="1"/>
<line x1="206.5" y1="512.4" x2="206.5" y2="514.6" stroke="#111" stroke-width="1"/>
<line x1="261.1" y1="512.4" x2="261.1" y2="514.6" stroke="#111" stroke-width="1"/>
<line x1="315.9" y1="512.4" x2="315.9" y2="514.6" stroke="#111" stroke-width="1"/>
<line x1="38.300000000000004" y1="492.4" x2="42.6" y2="492.4" stroke="#1a1a1a" stroke-width="1.2"/>
<text x="35.2" y="495.7" font-family="'Liberation Serif', serif" font-size="9.5" text-anchor="end" fill="#1a1a1a" font-weight="normal" stroke="#1a1a1a" stroke-width="0.35">0</text>
<line x1="38.300000000000004" y1="452.4" x2="42.6" y2="452.4" stroke="#1a1a1a" stroke-width="1.2"/>
<text x="35.2" y="455.7" font-family="'Liberation Serif', serif" font-size="9.5" text-anchor="end" fill="#1a1a1a" font-weight="normal" stroke="#1a1a1a" stroke-width="0.35">10</text>
<line x1="38.300000000000004" y1="412.4" x2="42.6" y2="412.4" stroke="#1a1a1a" stroke-width="1.2"/>
<text x="35.2" y="415.7" font-family="'Liberation Serif', serif" font-size="9.5" text-anchor="end" fill="#1a1a1a" font-weight="normal" stroke="#1a1a1a" stroke-width="0.35">20</text>
<line x1="38.300000000000004" y1="372.4" x2="42.6" y2="372.4" stroke="#1a1a1a" stroke-width="1.2"/>
<text x="35.2" y="375.7" font-family="'Liberation Serif', serif" font-size="9.5" text-anchor="end" fill="#1a1a1a" font-weight="normal" stroke="#1a1a1a" stroke-width="0.35">30</text>
<line x1="38.300000000000004" y1="332.4" x2="42.6" y2="332.4" stroke="#1a1a1a" stroke-width="1.2"/>
<text x="35.2" y="335.7" font-family="'Liberation Serif', serif" font-size="9.5" text-anchor="end" fill="#1a1a1a" font-weight="normal" stroke="#1a1a1a" stroke-width="0.35">40</text>
<line x1="38.300000000000004" y1="292.4" x2="42.6" y2="292.4" stroke="#1a1a1a" stroke-width="1.2"/>
<text x="35.2" y="295.7" font-family="'Liberation Serif', serif" font-size="9.5" text-anchor="end" fill="#1a1a1a" font-weight="normal" stroke="#1a1a1a" stroke-width="0.35">50</text>
<line x1="40.4" y1="512.4" x2="42.6" y2="512.4" stroke="#111" stroke-width="1"/>
<line x1="40.4" y1="472.4" x2="42.6" y2="472.4" stroke="#111" stroke-width="1"/>
<line x1="40.4" y1="432.4" x2="42.6" y2="432.4" stroke="#111" stroke-width="1"/>
<line x1="40.4" y1="392.4" x2="42.6" y2="392.4" stroke="#111" stroke-width="1"/>
<line x1="40.4" y1="352.4" x2="42.6" y2="352.4" stroke="#111" stroke-width="1"/>
<line x1="40.4" y1="312.4" x2="42.6" y2="312.4" stroke="#111" stroke-width="1"/>
<text x="14.4" y="398" font-family="'Liberation Serif', serif" font-size="11.3" text-anchor="middle" fill="#1a1a1a" font-weight="normal" stroke="#1a1a1a" stroke-width="0.3" transform="rotate(-90 14.4 398)" textLength="46" lengthAdjust="spacingAndGlyphs">(abs.hf)^2</text>
<text x="178.8" y="544.9" font-family="'Liberation Serif', serif" font-size="11.3" text-anchor="middle" fill="#1a1a1a" font-weight="normal" stroke="#1a1a1a" stroke-width="0.3" textLength="88.6" lengthAdjust="spacingAndGlyphs">photon energy (eV)</text>
<text x="17.8" y="537.3" font-family="'Liberation Serif', serif" font-size="9.5" text-anchor="start" fill="#111" font-weight="bold" >c</text>
<text x="167" y="300.5" font-family="'Liberation Serif', serif" font-size="8.5" text-anchor="middle" fill="#1E9EE0" font-weight="bold" textLength="19.6" lengthAdjust="spacingAndGlyphs">MOF</text>
<text x="281.3" y="472.9" font-family="'Liberation Serif', serif" font-size="11.5" text-anchor="start" fill="#1a1a1a" font-weight="normal" stroke="#1a1a1a" stroke-width="0.3" textLength="20.1" lengthAdjust="spacingAndGlyphs">3.68</text>
<polyline points="76.6,486.2 76.6,491.1 80.2,492.1 112.3,492.1 122.6,491.5 135.7,490.4 145.9,489.6 156.1,488.1 160.0,487.2 163.6,485.7 167.3,482.8 169.5,479.9 171.7,476.2 174.6,471.9 178.2,467.1 181.9,463.5 185.5,460.9 189.1,459.1 192.8,457.9 196.4,457.3 200.0,456.9 207.5,456.2 216.2,455.1 222.8,451.8 227.2,447.4 230.4,442.0 233.7,434.3 237.0,425.6 239.8,414.6 242.5,403.7 245.7,392.8 248.6,381.9 251.2,370.9 253.1,366.5 254.6,360.1 256.4,354.7 258.2,350.1 260.0,347.4 261.5,347.9 262.8,341.9 264.0,338.3 265.5,335.5 267.3,337.7 269.1,339.2 271.0,341.6 271.9,337.4 272.4,328.3 273.2,315.5 273.9,313.7 274.6,321.0 275.5,324.6 276.4,315.5 277.3,304.6 277.9,301.3 278.6,311.9 279.7,326.4 281.0,337.4 282.3,346.5 283.4,353.8 284.1,362.9 285.2,368.3 286.5,370.2 288.3,368.3 289.2,373.8 290.0,381.5 291.3,380.7 292.1,383.1 293.8,391.3 295.4,399.5 297.0,407.7 299.5,414.3 301.1,420.8 302.8,427.4 304.8,433.9 306.9,440.5 309.3,447.0 311.8,451.1 314.3,453.6" fill="none" stroke="#555" stroke-width="0.7" stroke-linejoin="round"/>
<line x1="80.5" y1="492.2" x2="112" y2="492.2" stroke="#888" stroke-width="1.1"/>
<line x1="208.4" y1="512.4" x2="252.3" y2="375.3" stroke="#ec2a2e" stroke-width="1.15"/>
<line x1="168.7" y1="477.7" x2="168.7" y2="485.3" stroke="#ff99ff" stroke-width="0.6"/>
<ellipse cx="168.7" cy="477.7" rx="0.95" ry="1.6" fill="#ff2dff"/>
<ellipse cx="168.7" cy="485.3" rx="0.95" ry="1.6" fill="#ff2dff"/>
<line x1="188.8" y1="456.2" x2="188.8" y2="463.5" stroke="#ff99ff" stroke-width="0.6"/>
<ellipse cx="188.8" cy="456.2" rx="0.95" ry="1.6" fill="#ff2dff"/>
<ellipse cx="188.8" cy="463.5" rx="0.95" ry="1.6" fill="#ff2dff"/>
<line x1="227.4" y1="443.5" x2="227.4" y2="451.8" stroke="#ff99ff" stroke-width="0.6"/>
<ellipse cx="227.4" cy="443.5" rx="0.95" ry="1.6" fill="#ff2dff"/>
<ellipse cx="227.4" cy="451.8" rx="0.95" ry="1.6" fill="#ff2dff"/>
<line x1="251.9" y1="364.4" x2="251.9" y2="372.0" stroke="#ff99ff" stroke-width="0.6"/>
<ellipse cx="251.9" cy="364.4" rx="0.95" ry="1.6" fill="#ff2dff"/>
<ellipse cx="251.9" cy="372.0" rx="0.95" ry="1.6" fill="#ff2dff"/>
<line x1="410.8" y1="288.9" x2="410.8" y2="508.8" stroke="#1a1a1a" stroke-width="1.3"/>
<line x1="410.2" y1="508.2" x2="683.3" y2="508.2" stroke="#1a1a1a" stroke-width="1.3"/>
<line x1="444.6" y1="508.2" x2="444.6" y2="512.4" stroke="#1a1a1a" stroke-width="1.2"/>
<text x="444.6" y="522.8" font-family="'Liberation Serif', serif" font-size="9.5" text-anchor="middle" fill="#1a1a1a" font-weight="normal" stroke="#1a1a1a" stroke-width="0.35">2</text>
<line x1="512.8" y1="508.2" x2="512.8" y2="512.4" stroke="#1a1a1a" stroke-width="1.2"/>
<text x="512.8" y="522.8" font-family="'Liberation Serif', serif" font-size="9.5" text-anchor="middle" fill="#1a1a1a" font-weight="normal" stroke="#1a1a1a" stroke-width="0.35">3</text>
<line x1="581.0" y1="508.2" x2="581.0" y2="512.4" stroke="#1a1a1a" stroke-width="1.2"/>
<text x="581.0" y="522.8" font-family="'Liberation Serif', serif" font-size="9.5" text-anchor="middle" fill="#1a1a1a" font-weight="normal" stroke="#1a1a1a" stroke-width="0.35">4</text>
<line x1="649.2" y1="508.2" x2="649.2" y2="512.4" stroke="#1a1a1a" stroke-width="1.2"/>
<text x="649.2" y="522.8" font-family="'Liberation Serif', serif" font-size="9.5" text-anchor="middle" fill="#1a1a1a" font-weight="normal" stroke="#1a1a1a" stroke-width="0.35">5</text>
<line x1="410.5" y1="508.2" x2="410.5" y2="510.4" stroke="#111" stroke-width="1"/>
<line x1="478.7" y1="508.2" x2="478.7" y2="510.4" stroke="#111" stroke-width="1"/>
<line x1="546.9" y1="508.2" x2="546.9" y2="510.4" stroke="#111" stroke-width="1"/>
<line x1="615.1" y1="508.2" x2="615.1" y2="510.4" stroke="#111" stroke-width="1"/>
<line x1="683.3" y1="508.2" x2="683.3" y2="510.4" stroke="#111" stroke-width="1"/>
<line x1="406.5" y1="487.9" x2="410.8" y2="487.9" stroke="#1a1a1a" stroke-width="1.2"/>
<text x="403.4" y="491.2" font-family="'Liberation Serif', serif" font-size="9.5" text-anchor="end" fill="#1a1a1a" font-weight="normal" stroke="#1a1a1a" stroke-width="0.35">0</text>
<line x1="406.5" y1="448.1" x2="410.8" y2="448.1" stroke="#1a1a1a" stroke-width="1.2"/>
<text x="403.4" y="451.4" font-family="'Liberation Serif', serif" font-size="9.5" text-anchor="end" fill="#1a1a1a" font-weight="normal" stroke="#1a1a1a" stroke-width="0.35">10</text>
<line x1="406.5" y1="408.3" x2="410.8" y2="408.3" stroke="#1a1a1a" stroke-width="1.2"/>
<text x="403.4" y="411.6" font-family="'Liberation Serif', serif" font-size="9.5" text-anchor="end" fill="#1a1a1a" font-weight="normal" stroke="#1a1a1a" stroke-width="0.35">20</text>
<line x1="406.5" y1="368.5" x2="410.8" y2="368.5" stroke="#1a1a1a" stroke-width="1.2"/>
<text x="403.4" y="371.8" font-family="'Liberation Serif', serif" font-size="9.5" text-anchor="end" fill="#1a1a1a" font-weight="normal" stroke="#1a1a1a" stroke-width="0.35">30</text>
<line x1="406.5" y1="328.7" x2="410.8" y2="328.7" stroke="#1a1a1a" stroke-width="1.2"/>
<text x="403.4" y="332.0" font-family="'Liberation Serif', serif" font-size="9.5" text-anchor="end" fill="#1a1a1a" font-weight="normal" stroke="#1a1a1a" stroke-width="0.35">40</text>
<line x1="406.5" y1="288.9" x2="410.8" y2="288.9" stroke="#1a1a1a" stroke-width="1.2"/>
<text x="403.4" y="292.2" font-family="'Liberation Serif', serif" font-size="9.5" text-anchor="end" fill="#1a1a1a" font-weight="normal" stroke="#1a1a1a" stroke-width="0.35">50</text>
<line x1="408.6" y1="507.8" x2="410.8" y2="507.8" stroke="#111" stroke-width="1"/>
<line x1="408.6" y1="468.0" x2="410.8" y2="468.0" stroke="#111" stroke-width="1"/>
<line x1="408.6" y1="428.2" x2="410.8" y2="428.2" stroke="#111" stroke-width="1"/>
<line x1="408.6" y1="388.4" x2="410.8" y2="388.4" stroke="#111" stroke-width="1"/>
<line x1="408.6" y1="348.6" x2="410.8" y2="348.6" stroke="#111" stroke-width="1"/>
<line x1="408.6" y1="308.8" x2="410.8" y2="308.8" stroke="#111" stroke-width="1"/>
<text x="380.9" y="393.6" font-family="'Liberation Serif', serif" font-size="11.2" text-anchor="middle" fill="#1a1a1a" font-weight="normal" stroke="#1a1a1a" stroke-width="0.3" transform="rotate(-90 380.9 393.6)" textLength="45.3" lengthAdjust="spacingAndGlyphs">(abs.hf)^2</text>
<text x="547.1" y="540.8" font-family="'Liberation Serif', serif" font-size="11.3" text-anchor="middle" fill="#1a1a1a" font-weight="normal" stroke="#1a1a1a" stroke-width="0.3" textLength="89.5" lengthAdjust="spacingAndGlyphs">photon energy (eV)</text>
<text x="410.9" y="533.2" font-family="'Liberation Serif', serif" font-size="9.5" text-anchor="start" fill="#111" font-weight="bold" >d</text>
<text x="532.6" y="293.7" font-family="'Liberation Serif', serif" font-size="8.4" text-anchor="middle" fill="#1E9EE0" font-weight="bold" textLength="39.5" lengthAdjust="spacingAndGlyphs">BiOI/MOF</text>
<text x="594.1" y="452.5" font-family="'Liberation Serif', serif" font-size="11.5" text-anchor="start" fill="#1a1a1a" font-weight="normal" stroke="#1a1a1a" stroke-width="0.3" textLength="19.5" lengthAdjust="spacingAndGlyphs">3.62</text>
<polyline points="411.8,487.6 427.5,487.6 445.0,486.7 453.8,484.5 462.6,481.0 471.3,476.6 480.1,472.2 488.8,468.2 497.6,464.7 506.4,461.3 515.1,458.2 523.9,455.2 530.0,453.5 536.4,451.3 544.6,448.9 552.8,445.6 561.0,441.5 567.5,436.6 572.5,431.6 576.6,426.7 579.0,421.8 582.3,416.1 585.6,409.5 588.9,401.3 592.1,393.1 595.4,383.3 600.0,370.0 604.0,358.0 607.2,347.8 610.5,341.4 614.1,336.0 616.3,330.5 616.9,322.3 617.8,315.0 618.7,311.4 620.5,309.2 622.3,310.5 623.6,317.8 624.7,315.0 626.0,309.6 627.3,307.4 628.7,308.7 630.5,312.3 632.0,318.7 633.3,326.9 635.1,332.3 636.9,334.2 637.8,340.5 639.6,349.6 642.4,356.9 644.2,363.3 645.1,360.6 646.9,356.0 648.8,359.7 650.2,364.2 651.5,370.6 652.1,373.8 654.7,377.0 656.6,378.3 657.2,382.7 657.8,386.6 659.8,389.8 661.7,394.9 663.6,400.6 665.5,403.8 668.0,405.7 669.3,409.5 670.6,414.6 673.1,419.1 675.7,423.5 677.6,427.4 680.2,429.9 682.7,432.2" fill="none" stroke="#555" stroke-width="0.7" stroke-linejoin="round"/>
<line x1="548.9" y1="508.2" x2="607.2" y2="350.6" stroke="#ec2a2e" stroke-width="1.15"/>
<line x1="577.7" y1="421.0" x2="577.7" y2="426.5" stroke="#ff99ff" stroke-width="0.6"/>
<ellipse cx="577.7" cy="421.0" rx="0.95" ry="1.6" fill="#ff2dff"/>
<ellipse cx="577.7" cy="426.5" rx="0.95" ry="1.6" fill="#ff2dff"/>
<line x1="607.2" y1="341.8" x2="607.2" y2="348.2" stroke="#ff99ff" stroke-width="0.6"/>
<ellipse cx="607.2" cy="341.8" rx="0.95" ry="1.6" fill="#ff2dff"/>
<ellipse cx="607.2" cy="348.2" rx="0.95" ry="1.6" fill="#ff2dff"/>
</svg>
</body></html>
